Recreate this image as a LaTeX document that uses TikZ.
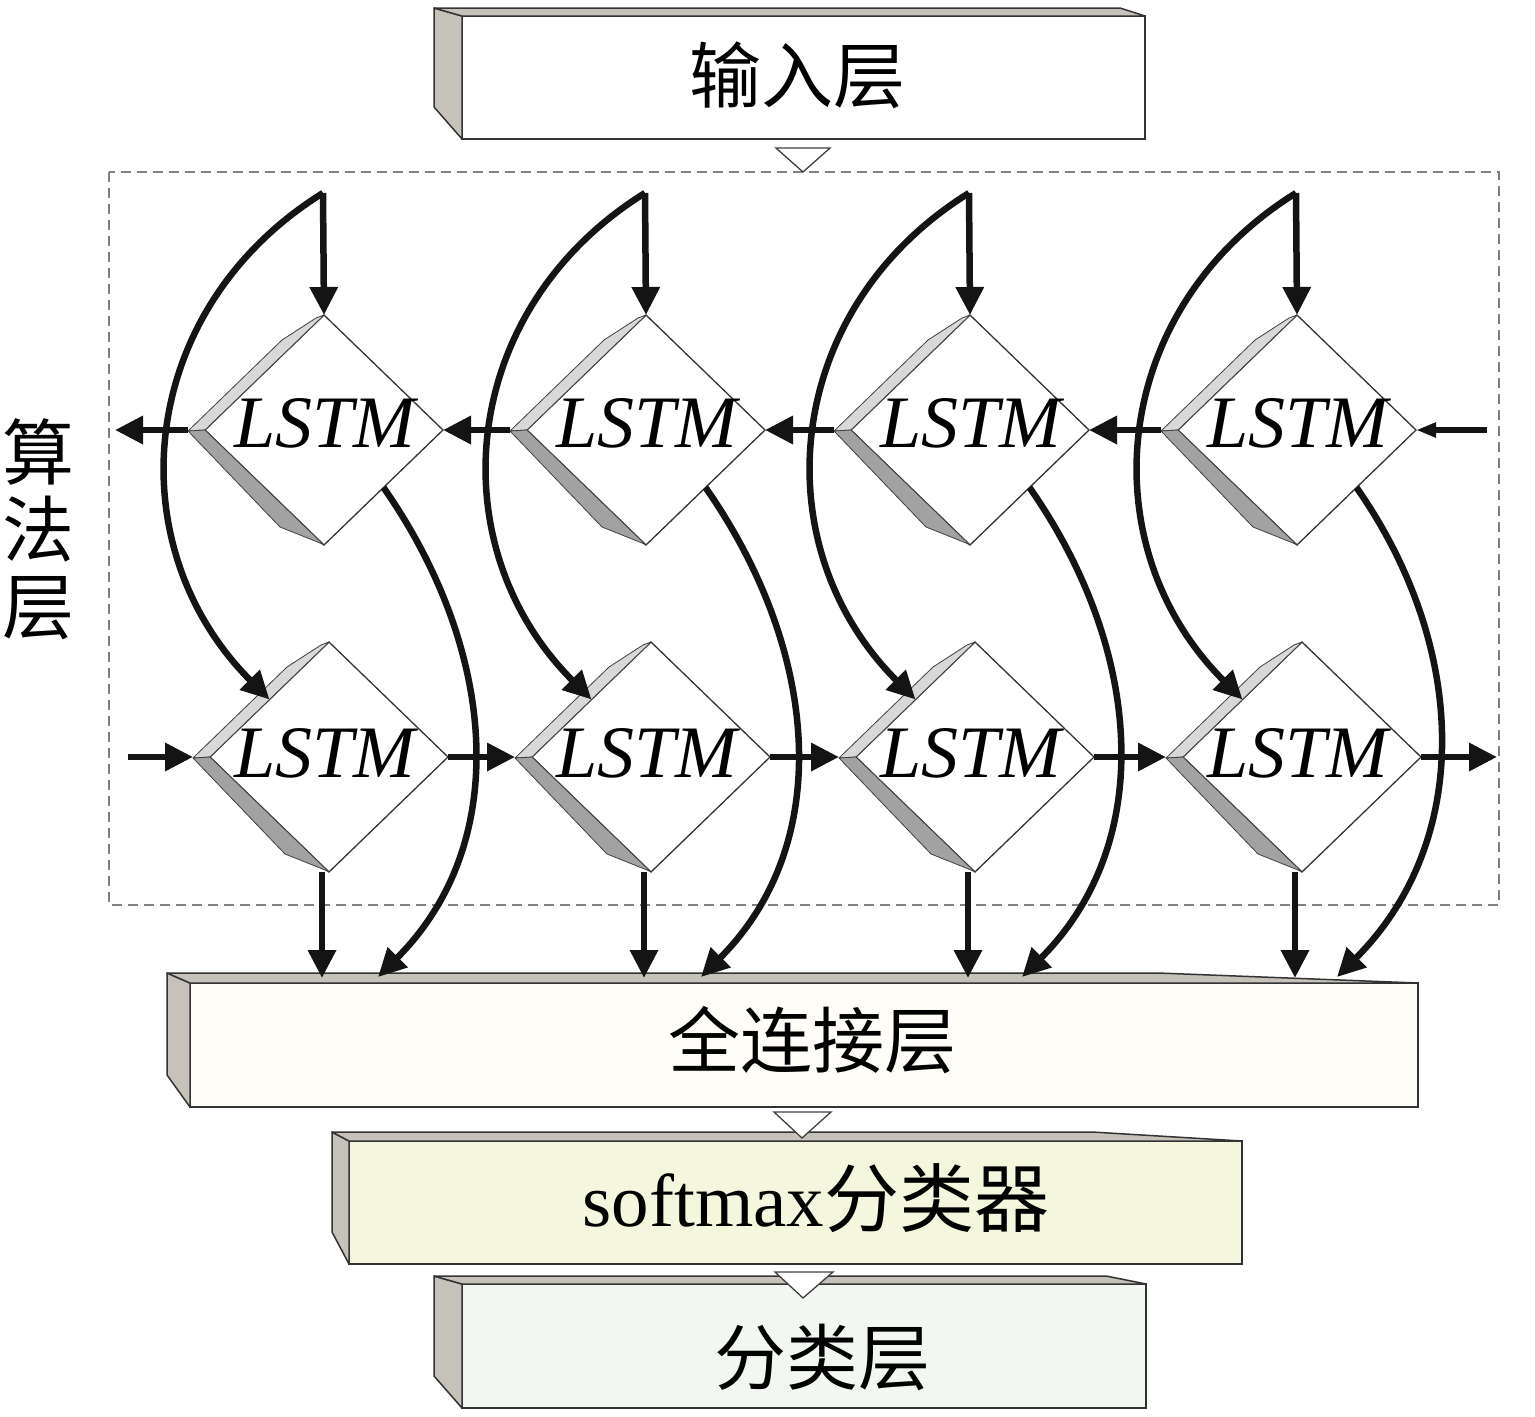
\documentclass[tikz,border=0pt]{standalone}
\usepackage{fontspec}
\setmainfont{Liberation Serif}
\newfontfamily\cjk{Noto Sans CJK SC}
\usetikzlibrary{arrows.meta,calc,shapes.geometric}
\definecolor{sidegray}{HTML}{C6C2BA}
\definecolor{fcfill}{HTML}{FFFDF8}
\definecolor{smfill}{HTML}{F4F6DE}
\definecolor{clsfill}{HTML}{F3F7F1}
\definecolor{bevlight}{HTML}{D8D8D8}
\definecolor{bevdark}{HTML}{A2A2A2}
\newcommand{\slabsides}[4]{%
  \filldraw[side] ($(#1.north west)+(-#2,-#3)$) -- (#1.north west) -- (#1.south west) -- ($(#1.south west)+(-#2,-32)$) -- cycle;
  \filldraw[side] ($(#1.north west)+(-#2,-#3)$) -- ($(#1.north east)+(-#4,-#3)$) -- (#1.north east) -- (#1.north west) -- cycle;
}
\newcommand{\lstmbevel}[1]{%
  \filldraw[bevel,fill=bevlight] ($(#1)+(-136,1)$) -- ($(#1)+(-42,-90)$) -- ($(#1)+(-8,-112)$) -- (#1.north) -- (#1.west) -- cycle;
  \filldraw[bevel,fill=bevdark] ($(#1)+(-136,1)$) -- ($(#1)+(-44,97)$) -- ($(#1)+(-4,113)$) -- (#1.south) -- (#1.west) -- cycle;
}
\begin{document}
\begin{tikzpicture}[x=1pt,y=-1pt,
  conn/.style={line width=6.5pt,draw=black!92},
  arr/.style={conn,-{Triangle[width=27pt,length=28pt]}},
  sarr/.style={conn,-{Triangle[width=14pt,length=20pt]}},
  cell/.style={diamond,draw=black!80,line width=1.3pt,fill=white,minimum width=238pt,minimum height=230pt,inner sep=0pt,outer sep=0pt},
  bevel/.style={draw=black!75,line width=0.8pt,line join=round},
  lstmtxt/.style={font=\fontsize{74}{80}\selectfont\itshape,anchor=base,inner sep=0pt},
  slab/.style={draw=black!80,line width=2pt,inner sep=0pt,outer sep=0pt},
  side/.style={fill=sidegray,draw=black!80,line width=1.5pt,line join=round},
  cjktxt/.style={font=\cjk\fontsize{72}{72}\selectfont,inner sep=0pt},
  smtxt/.style={font=\fontsize{75}{75}\selectfont,inner sep=0pt},
  cjklab/.style={font=\cjk\fontsize{72}{77}\selectfont,align=center,inner sep=0pt},
  frame/.style={draw=black!50,line width=1.5pt,dash pattern=on 10pt off 6pt},
  tri/.style={fill=white,draw=black!75,line width=1.3pt,line join=miter}
]
\useasboundingbox (0,0) rectangle (1535,1417);

% algorithm layer frame and label
\draw[frame] (109,172) rectangle (1499,905);
\node[cjklab] (alg) at (38,529) {算\\法\\层};

% layer boxes
\node[slab,fill=white,minimum width=683pt,minimum height=123pt] (inp) at (803.5,77.5) {};
\slabsides{inp}{28}{8}{25}
\node[cjktxt] (inpT) at (797,75) {输入层};

\node[slab,fill=fcfill,minimum width=1228pt,minimum height=124pt] (fc) at (804,1045) {};
\slabsides{fc}{23}{10}{260}
\node[cjktxt] (fcT) at (812,1040) {全连接层};

\node[slab,fill=smfill,minimum width=893pt,minimum height=123pt] (sm) at (795.5,1202.5) {};
\slabsides{sm}{17}{9}{150}
\node[smtxt] (smT) at (816,1198) {softmax{\cjk 分类器}};

\node[slab,fill=clsfill,minimum width=684pt,minimum height=124pt] (cls) at (804,1346) {};
\slabsides{cls}{28}{8}{40}
\node[cjktxt] (clsT) at (822,1357) {分类层};

% hollow flow triangles
\draw[tri] (776,148) -- (830,148) -- (803,172) -- cycle;
\draw[tri] (774,1112) -- (831,1112) -- (802,1138) -- cycle;
\draw[tri] (775,1272) -- (833,1272) -- (803,1298) -- cycle;

% LSTM cells
\foreach \i/\x/\tx in {1/324/378,2/646/701,3/970/1022,4/1297/1337} {
  \node[cell] (a\i) at (\x,430) {};
  \lstmbevel{a\i}
  \node[lstmtxt] (ta\i) at ($(a\i)+(1,17)$) {LSTM};
  \node[cell] (b\i) at (\x+5,757) {};
  \lstmbevel{b\i}
  \node[lstmtxt] (tb\i) at ($(b\i)+(-4,20)$) {LSTM};
  \coordinate (aL\i) at ($(a\i)+(-136,0)$);
  \coordinate (bL\i) at ($(b\i)+(-136,0)$);
  \coordinate (in\i) at (\x-1,193);
  \coordinate (fcA\i) at (\tx,977);
  \coordinate (fcV\i) at (\x-2,978);
}

% connectors
\foreach \i in {1,2,3,4} {
  \draw[arr] (in\i) -- (a\i.north);
  \draw[arr] (in\i) .. controls +(-187,116) and +(-154,-154) .. (b\i.north west);
  \draw[arr] (a\i.south east) .. controls +(112,160) and +(136,-136) .. (fcA\i);
  \draw[arr] ($(b\i.south)+(-7,0)$) -- (fcV\i);
}
\foreach \i/\j in {1/2,2/3,3/4} {
  \draw[arr] (aL\j) -- (a\i.east);
  \draw[arr] (b\i.east) -- (bL\j);
}
\coordinate (outA) at (115,430);
\coordinate (inA) at (1487,430);
\coordinate (inB) at (128,757);
\coordinate (outB) at (1497,757);
\draw[arr] (aL1) -- (outA);
\draw[sarr] (inA) -- (a4.east);
\draw[arr] (inB) -- (bL1);
\draw[arr] (b4.east) -- (outB);
\end{tikzpicture}
\end{document}
